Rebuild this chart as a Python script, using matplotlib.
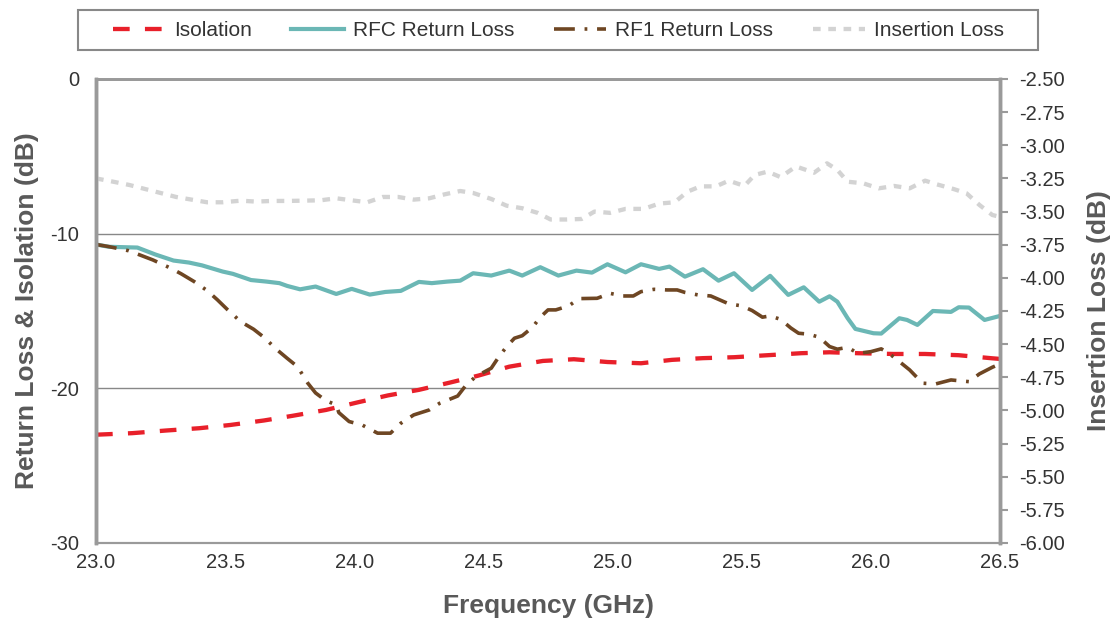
import matplotlib
matplotlib.use("Agg")
import matplotlib.pyplot as plt
from matplotlib.patches import Rectangle

plt.rcParams['font.family'] = ['Liberation Sans', 'DejaVu Sans']
plt.rcParams['lines.scale_dashes'] = False
plt.rcParams['axes.unicode_minus'] = False

# Isolation (left axis, dB)
iso_f = [23.00, 23.14, 23.27, 23.40, 23.52, 23.65, 23.76, 23.89, 24.01, 24.13, 24.25, 24.37,
         24.48, 24.60, 24.73, 24.85, 24.98, 25.11, 25.23, 25.35, 25.47, 25.60, 25.73, 25.84,
         25.95, 26.09, 26.21, 26.34, 26.47, 26.50]
iso_db = [-23.0, -22.9, -22.73, -22.58, -22.37, -22.08, -21.78, -21.4, -20.92, -20.46, -20.1, -19.63,
          -19.18, -18.6, -18.23, -18.12, -18.3, -18.38, -18.16, -18.05, -17.99, -17.86, -17.73, -17.67,
          -17.73, -17.78, -17.78, -17.86, -18.06, -18.1]

# RFC return loss
rfc_f = [23.00, 23.05, 23.16, 23.23, 23.30, 23.36, 23.41, 23.49, 23.53, 23.60, 23.66, 23.71,
         23.74, 23.79, 23.85, 23.93, 23.99, 24.06, 24.12, 24.18, 24.25, 24.30, 24.36, 24.41,
         24.46, 24.53, 24.60, 24.65, 24.72, 24.79, 24.86, 24.92, 24.98, 25.05, 25.11, 25.18,
         25.22, 25.28, 25.35, 25.41, 25.47, 25.54, 25.61, 25.68, 25.74, 25.80, 25.84, 25.87,
         25.91, 25.94, 26.01, 26.04, 26.11, 26.14, 26.18, 26.24, 26.31, 26.34, 26.38, 26.44, 26.50]
rfc_db = [-10.7, -10.85, -10.9, -11.35, -11.74, -11.87, -12.05, -12.45, -12.6, -13.0, -13.1, -13.2,
          -13.38, -13.6, -13.42, -13.9, -13.57, -13.94, -13.77, -13.7, -13.12, -13.2, -13.1, -13.04,
          -12.56, -12.71, -12.39, -12.71, -12.17, -12.71, -12.39, -12.52, -11.98, -12.5, -11.98, -12.28,
          -12.13, -12.78, -12.3, -13.04, -12.56, -13.64, -12.73, -13.96, -13.47, -14.4, -14.05, -14.4,
          -15.47, -16.16, -16.44, -16.46, -15.47, -15.58, -15.9, -15.0, -15.06, -14.76, -14.78, -15.58, -15.32]

# RF1 return loss
rf1_f = [23.00, 23.05, 23.125, 23.17, 23.22, 23.29, 23.33, 23.38, 23.43, 23.47, 23.51, 23.56,
         23.61, 23.65, 23.70, 23.74, 23.78, 23.82, 23.85, 23.89, 23.93, 23.94, 23.98, 24.03,
         24.09, 24.14, 24.18, 24.23, 24.29, 24.33, 24.40, 24.43, 24.47, 24.53, 24.56, 24.59,
         24.62, 24.65, 24.69, 24.72, 24.75, 24.78, 24.83, 24.87, 24.94, 24.99, 25.04, 25.08,
         25.11, 25.16, 25.21, 25.25, 25.28, 25.33, 25.38, 25.45, 25.50, 25.54, 25.58, 25.61,
         25.65, 25.69, 25.72, 25.76, 25.80, 25.84, 25.87, 25.91, 25.95, 26.00, 26.04, 26.07,
         26.11, 26.15, 26.20, 26.25, 26.31, 26.38, 26.42, 26.47, 26.50]
rf1_db = [-10.7, -10.84, -11.1, -11.38, -11.7, -12.24, -12.6, -13.1, -13.68, -14.28, -14.93, -15.69,
          -16.18, -16.7, -17.5, -18.06, -18.6, -19.67, -20.3, -20.8, -21.07, -21.57, -22.15, -22.37,
          -22.9, -22.9, -22.26, -21.72, -21.4, -20.97, -20.5, -19.85, -19.24, -18.7, -17.95, -17.3,
          -16.76, -16.6, -16.05, -15.4, -14.93, -14.93, -14.67, -14.2, -14.18, -13.86, -14.03, -14.03,
          -13.75, -13.6, -13.64, -13.64, -13.8, -13.96, -14.03, -14.54, -14.67, -14.97, -15.4, -15.32,
          -15.54, -16.1, -16.44, -16.5, -16.7, -17.3, -17.47, -17.35, -17.74, -17.63, -17.45, -17.74,
          -18.27, -18.81, -19.67, -19.72, -19.46, -19.57, -19.07, -18.64, -18.42]

# Insertion loss (right axis, dB)
il_f = [23.00, 23.067, 23.13, 23.19, 23.25, 23.31, 23.37, 23.43, 23.49, 23.56, 23.62, 23.68,
        23.74, 23.80, 23.87, 23.93, 23.98, 24.05, 24.11, 24.17, 24.23, 24.29, 24.35, 24.41,
        24.46, 24.53, 24.59, 24.65, 24.71, 24.76, 24.82, 24.88, 24.93, 24.99, 25.05, 25.12,
        25.18, 25.24, 25.29, 25.34, 25.40, 25.45, 25.51, 25.55, 25.60, 25.65, 25.71, 25.78,
        25.83, 25.87, 25.91, 25.97, 26.03, 26.09, 26.15, 26.21, 26.25, 26.32, 26.37, 26.42,
        26.47, 26.50]
il_db = [-3.25, -3.275, -3.30, -3.33, -3.36, -3.39, -3.41, -3.43, -3.43, -3.418, -3.425, -3.42,
         -3.42, -3.418, -3.415, -3.40, -3.413, -3.43, -3.39, -3.39, -3.41, -3.40, -3.37, -3.345,
         -3.36, -3.405, -3.456, -3.475, -3.51, -3.56, -3.56, -3.556, -3.50, -3.51, -3.48, -3.48,
         -3.44, -3.43, -3.35, -3.31, -3.31, -3.267, -3.307, -3.224, -3.199, -3.24, -3.16, -3.207,
         -3.136, -3.186, -3.275, -3.287, -3.325, -3.307, -3.325, -3.267, -3.292, -3.33, -3.362, -3.45,
         -3.526, -3.54]

fig = plt.figure(figsize=(11.18, 6.18), dpi=100)
ax = fig.add_axes([0.0859, 0.1214, 0.8086, 0.7508])
ax2 = ax.twinx()

l1, = ax.plot(iso_f, iso_db, color='#E8202A', lw=3.1, dashes=(12, 11), label='Isolation')
l2, = ax.plot(rfc_f, rfc_db, color='#6BB7B5', lw=3.0, label='RFC Return Loss')
l3, = ax.plot(rf1_f, rf1_db, color='#6E4623', lw=2.6, dashes=(15, 7, 2, 7), label='RF1 Return Loss')
l4, = ax2.plot(il_f, il_db, color='#D3D3D3', lw=3.1, dashes=(5.5, 5.5), label='Insertion Loss')

ax.set_xlim(23.0, 26.5)
ax.set_ylim(-30, 0)
ax2.set_ylim(-6.0, -2.5)
ax.set_xticks([23.0, 23.5, 24.0, 24.5, 25.0, 25.5, 26.0, 26.5])
ax.set_xticklabels([f'{v:.1f}' for v in ax.get_xticks()])
ax.set_yticks([-30, -20, -10, 0])
ax2.set_yticks([-6.0 + 0.25 * i for i in range(15)])
ax2.set_yticklabels([f'{-6.0 + 0.25 * i:.2f}' for i in range(15)])

ax.grid(axis='y', color='#888888', lw=1)
ax.set_axisbelow(True)

for a in (ax, ax2):
    for s in a.spines.values():
        s.set_color('#9A9A9A')
    a.spines['left'].set_linewidth(2.5)
    a.spines['right'].set_linewidth(2.5)
    a.spines['top'].set_linewidth(2)
    a.spines['bottom'].set_linewidth(1.5)

ax.tick_params(axis='x', length=0, labelsize=14.5, labelcolor='#333333', pad=7)
ax.tick_params(axis='y', length=0, labelsize=14.5, labelcolor='#333333', pad=12)
ax2.tick_params(axis='y', length=6, width=1.5, color='#9A9A9A', labelsize=14.5,
                labelcolor='#333333', pad=8)

ax.set_xlabel('Frequency (GHz)', fontsize=19, fontweight='bold', color='#595959', labelpad=16)
ax.set_ylabel('Return Loss & Isolation (dB)', fontsize=19, fontweight='bold', color='#595959', labelpad=8)
ax2.set_ylabel('Insertion Loss (dB)', fontsize=19, fontweight='bold', color='#595959', labelpad=16)

fig.patches.append(Rectangle((0.0698, 0.919), 0.859, 0.0647, transform=fig.transFigure,
                             fill=False, edgecolor='#888888', lw=1.5))
fig.legend(handles=[l1, l2, l3, l4], loc='center', bbox_to_anchor=(0.4995, 0.9500), ncol=4,
           frameon=False, fontsize=15, handlelength=2.5, handletextpad=0.45, columnspacing=1.9,
           labelcolor='#333333')

fig.savefig('out.png', dpi=100)
